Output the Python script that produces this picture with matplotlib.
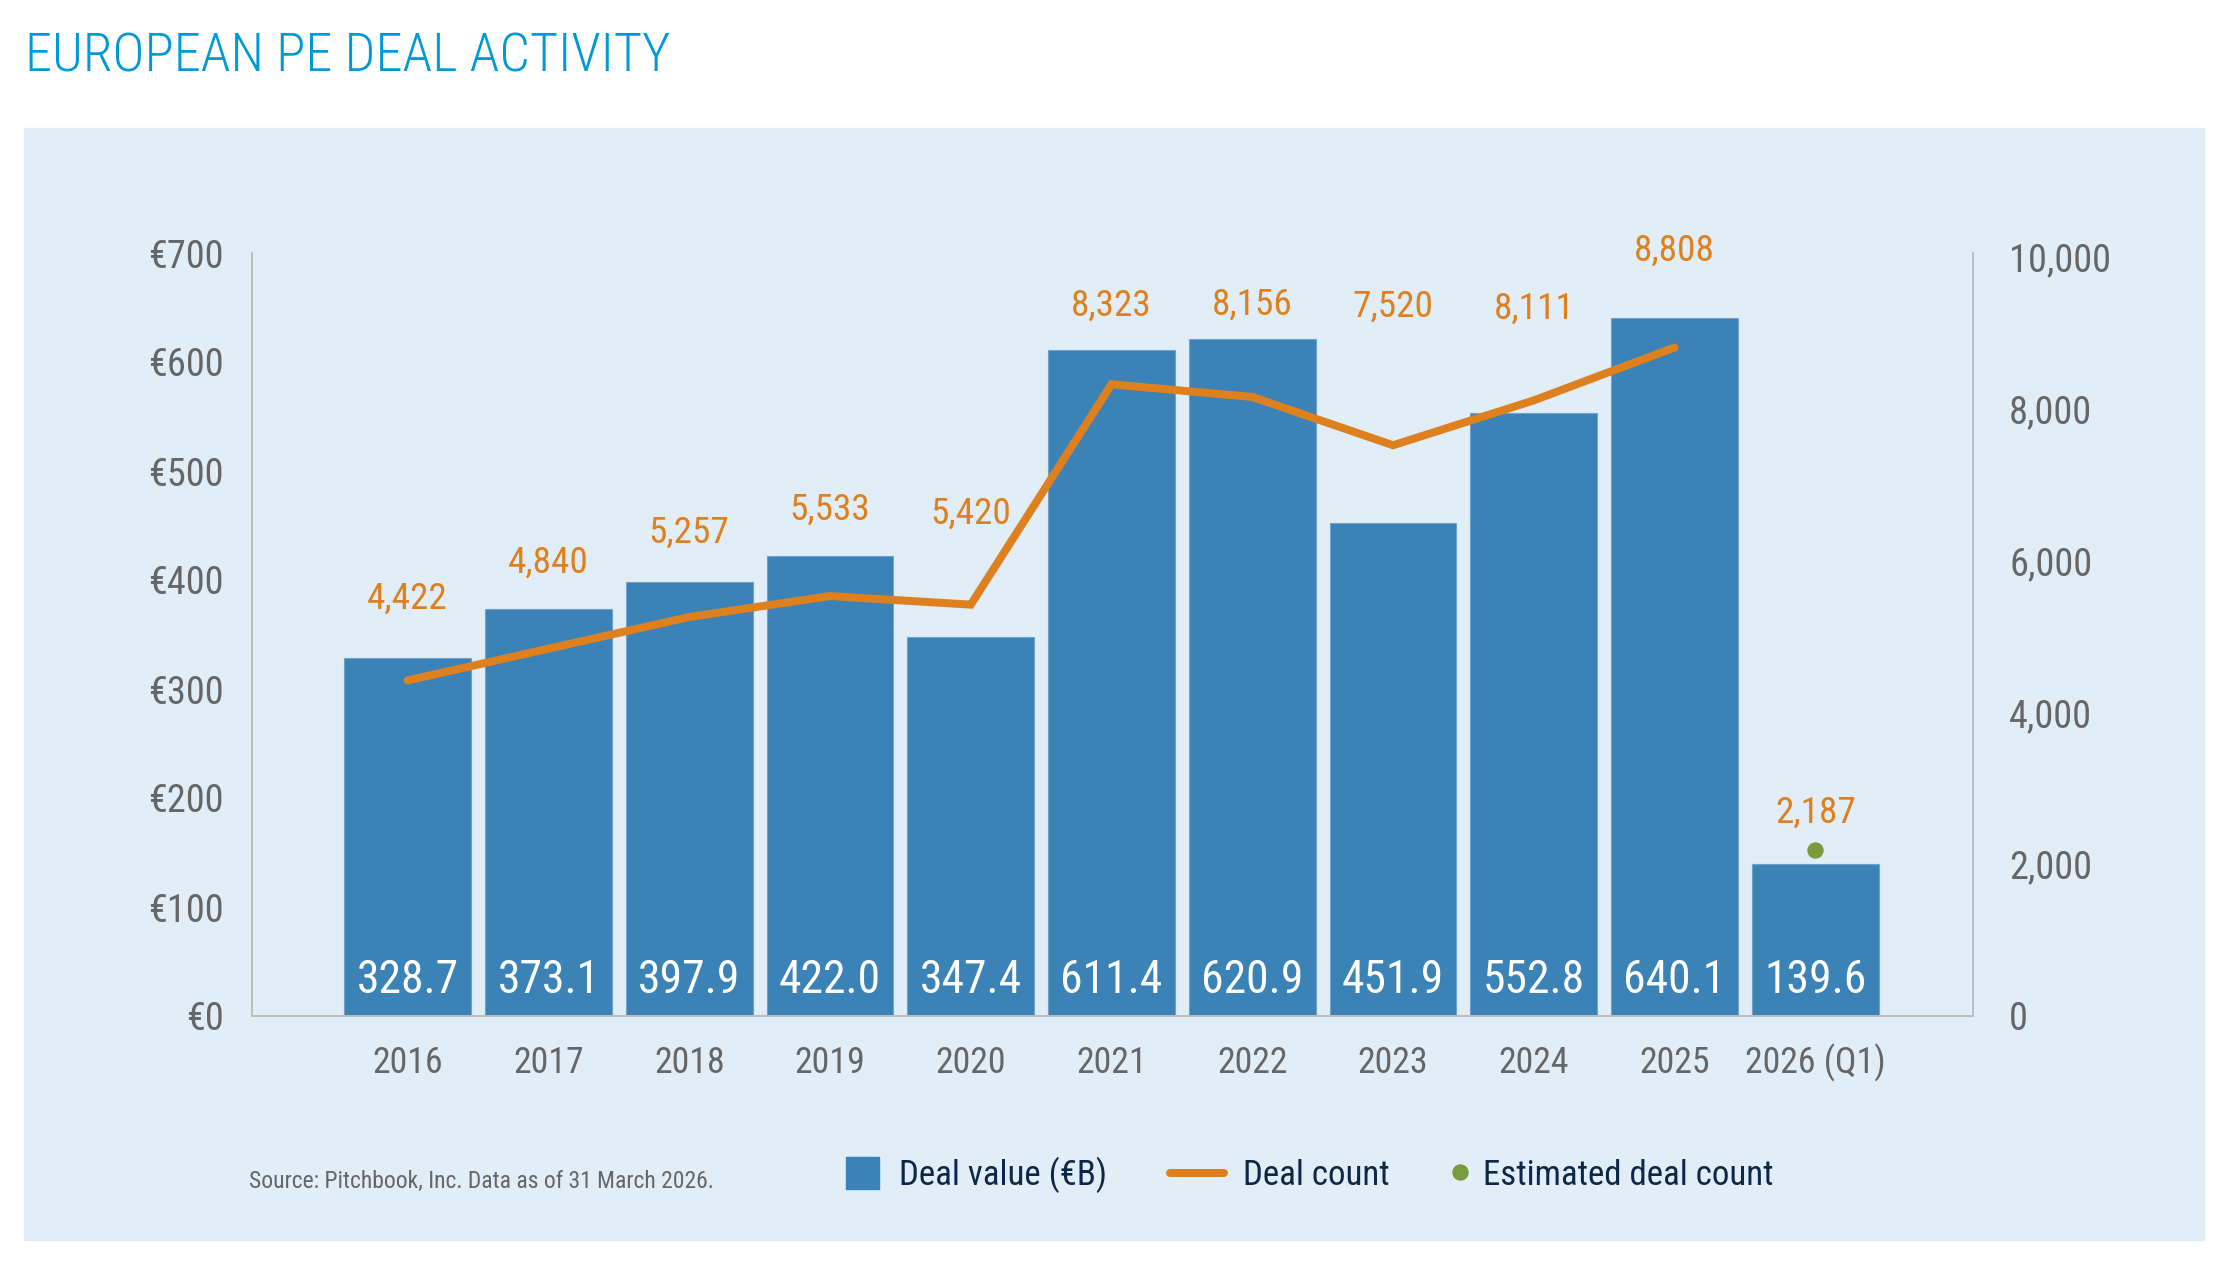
import matplotlib
matplotlib.use("Agg")
import matplotlib.pyplot as plt
from matplotlib import font_manager
from matplotlib.patches import Rectangle
from matplotlib.lines import Line2D

# data
years = ["2016", "2017", "2018", "2019", "2020", "2021", "2022", "2023", "2024", "2025", "2026 (Q1)"]
deal_value = [328.7, 373.1, 397.9, 422.0, 347.4, 611.4, 620.9, 451.9, 552.8, 640.1, 139.6]
deal_count = [4422, 4840, 5257, 5533, 5420, 8323, 8156, 7520, 8111, 8808]
estimated_count = [2187]
left_ticks = [0, 100, 200, 300, 400, 500, 600, 700]
right_ticks = [0, 2000, 4000, 6000, 8000, 10000]

# label offsets above the line points, in pixels
count_label_offsets = [72, 76, 74, 76, 81, 69, 82, 129, 82, 87]
estimated_label_offset = 27

# pick a narrow font if there is one
names = {f.name for f in font_manager.fontManager.ttflist}
FONT = "DejaVu Sans"
for cand in ["Roboto Condensed", "Liberation Sans Narrow", "PT Sans Narrow", "Open Sans Condensed", "Liberation Sans"]:
    if cand in names:
        FONT = cand
        break
plt.rcParams["font.family"] = [FONT, "DejaVu Sans"]

W, H = 2225, 1268
PX = 72 / 100  # points per pixel

BLUE = "#3b82b6"
ORANGE = "#df801f"
GREEN = "#7a9b3c"
PANEL = "#e1eef8"
GREY = "#666666"
NAVY = "#0c2748"

fig = plt.figure(figsize=(W / 100, H / 100), dpi=100)
fig.add_artist(Rectangle((24 / W, 1 - 1240 / H), (2204 - 24) / W, (1240 - 128) / H,
                         transform=fig.transFigure, color=PANEL, zorder=0))

ax = fig.add_axes([251.5 / W, 1 - 1016 / H, (1972.7 - 251.5) / W, (1016 - 253) / H])
ax.set_facecolor("none")
x = list(range(len(years)))
ax.bar(x, deal_value, width=0.9, color=BLUE, edgecolor="#6fa3cf", linewidth=0.8, zorder=2)
ax.set_xlim(-1.11, 11.118)
ax.set_ylim(0, 700)
ax.set_yticks(left_ticks, labels=[f"€{t}" for t in left_ticks])
ax.set_xticks(x, labels=years, va="baseline")
ax.tick_params(axis="x", length=0, pad=57.3 * PX, labelsize=25.8, labelcolor=GREY)
ax.tick_params(axis="y", length=0, pad=27.5 * PX, labelsize=27.6, labelcolor=GREY)
for s in ["top", "right"]:
    ax.spines[s].set_visible(False)
for s in ["left", "bottom"]:
    ax.spines[s].set_color("#bdbdbd")
    ax.spines[s].set_linewidth(1.4)

for xi, v in zip(x, deal_value):
    ax.annotate(f"{v:.1f}", (xi, 0), xytext=(0, 22.7 * PX), textcoords="offset points",
                ha="center", va="baseline", color="white", fontsize=32.9, zorder=3)

ax2 = ax.twinx()
ax2.set_ylim(0, 10053)
ax2.plot(x[:len(deal_count)], deal_count, color=ORANGE, lw=8 * PX,
         solid_capstyle="round", solid_joinstyle="miter", zorder=4)
ax2.plot(x[len(deal_count):], estimated_count, "o", color=GREEN, ms=15 * PX, zorder=4)
ax2.set_yticks(right_ticks, labels=[f"{t:,}" for t in right_ticks])
ax2.tick_params(axis="y", length=0, pad=36.3 * PX, labelsize=27.6, labelcolor=GREY)
for s in ["top", "left", "bottom"]:
    ax2.spines[s].set_visible(False)
ax2.spines["right"].set_color("#bdbdbd")
ax2.spines["right"].set_linewidth(1.4)

for xi, v, off in zip(x, deal_count, count_label_offsets):
    ax2.annotate(f"{v:,}", (xi, v), xytext=(0, off * PX), textcoords="offset points",
                 ha="center", va="baseline", color=ORANGE, fontsize=26.8)
for xi, v in zip(x[len(deal_count):], estimated_count):
    ax2.annotate(f"{v:,}", (xi, v), xytext=(0, estimated_label_offset * PX), textcoords="offset points",
                 ha="center", va="baseline", color=ORANGE, fontsize=26.8)

# title and source
fig.text(25 / W, 1 - 72 / H, "EUROPEAN PE DEAL ACTIVITY", ha="left", va="baseline",
         fontsize=39, fontweight="light", color="#0099d8")
fig.text(249 / W, 1 - 1188 / H, "Source: Pitchbook, Inc. Data as of 31 March 2026.",
         ha="left", va="baseline", fontsize=17, color=GREY)

# legend, drawn by hand
fig.add_artist(Rectangle((846 / W, 1 - 1189.3 / H), 32.6 / W, 32.6 / H,
                         transform=fig.transFigure, color=BLUE))
fig.text(899 / W, 1 - 1185 / H, "Deal value (€B)", ha="left", va="baseline", fontsize=25.1, color=NAVY)
fig.add_artist(Line2D([1170 / W, 1224 / W], [1 - 1172.7 / H] * 2, transform=fig.transFigure,
                      color=ORANGE, lw=8 * PX, solid_capstyle="round"))
fig.text(1243 / W, 1 - 1185 / H, "Deal count", ha="left", va="baseline", fontsize=25.1, color=NAVY)
fig.add_artist(Line2D([1460 / W], [1 - 1172 / H], transform=fig.transFigure,
                      marker="o", color=GREEN, ms=15 * PX, lw=0))
fig.text(1483 / W, 1 - 1185 / H, "Estimated deal count", ha="left", va="baseline", fontsize=25.1, color=NAVY)

fig.savefig("out.png", dpi=100)
